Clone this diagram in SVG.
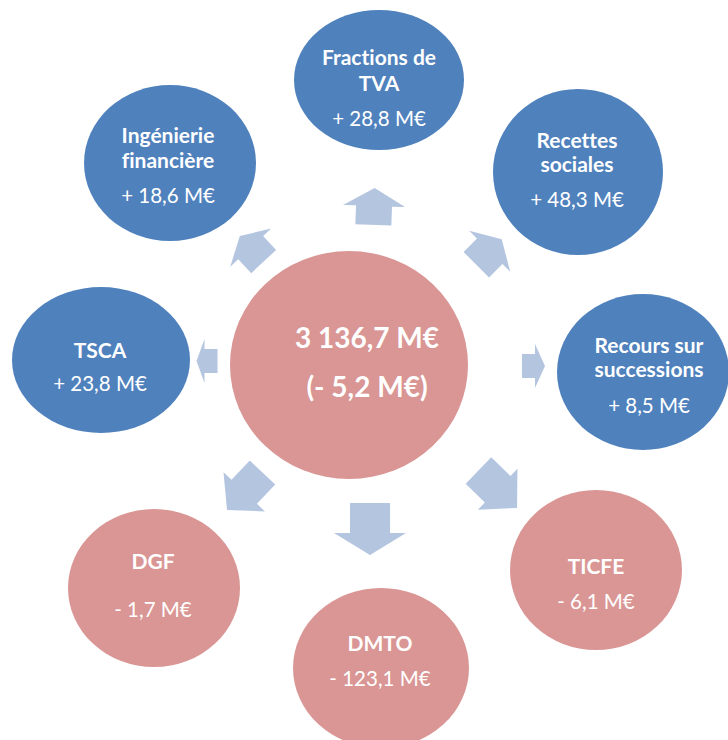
<svg xmlns="http://www.w3.org/2000/svg" width="728" height="740" viewBox="0 0 728 740">
<style>
.blue{fill:#4f81bd}
.red{fill:#d99694}
.arr{fill:#b4c5e0}
text{font-family:Lato,"Open Sans","Liberation Sans",sans-serif;fill:#fff;text-anchor:middle;font-variant-ligatures:none}
.t{font-size:21px;font-weight:bold}
.v{font-size:20.5px}
.c{font-size:28px;font-weight:bold}
</style>
<rect width="728" height="740" fill="#fff"/>
<g id="connectors">
<polygon class="arr" transform="translate(374,206.5) rotate(2)" points="0,-18.5 31,-0.5 18,-0.5 18,18.5 -18,18.5 -18,-0.5 -31,-0.5"/>
<polygon class="arr" transform="translate(489,252) rotate(45)" points="0,-18 29,-1 18,-1 18,18 -18,18 -18,-1 -29,-1"/>
<polygon class="arr" transform="translate(533.5,366) rotate(90)" points="0,-11.5 22,-1.5 12,-1.5 12,11.5 -12,11.5 -12,-1.5 -22,-1.5"/>
<polygon class="arr" transform="translate(497.75,489.25) rotate(134)" points="0,-26.85 28.5,0.15 18.4,0.15 18.4,26.85 -18.4,26.85 -18.4,0.15 -28.5,0.15"/>
<polygon class="arr" transform="translate(370,529) rotate(180)" points="0,-26 36,-4 20,-4 20,26 -20,26 -20,-4 -36,-4"/>
<polygon class="arr" transform="translate(244.75,491.25) rotate(-136.6)" points="0,-25.8 28.5,-0.8 17.5,-0.8 17.5,25.8 -17.5,25.8 -17.5,-0.8 -28.5,-0.8"/>
<polygon class="arr" transform="translate(207,361) rotate(-90)" points="0,-10.5 22,-2.5 12,-2.5 12,10.5 -12,10.5 -12,-2.5 -22,-2.5"/>
<polygon class="arr" transform="translate(251.75,248.75) rotate(-43)" points="0,-17.5 28,-1.5 17,-1.5 17,17.5 -17,17.5 -17,-1.5 -28,-1.5"/>
</g>
<g id="center">
<ellipse class="red" cx="349" cy="365" rx="119" ry="114"/>
<text class="c" x="367" y="348">3 136,7 M€</text>
<text class="c" x="367" y="397">(- 5,2 M€)</text>
</g>
<g id="fractions-tva">
<ellipse class="blue" cx="379" cy="80" rx="85" ry="70"/>
<text class="t" x="379" y="65">Fractions de</text>
<text class="t" x="379" y="91">TVA</text>
<text class="v" x="379" y="126">+ 28,8 M€</text>
</g>
<g id="ingenierie">
<ellipse class="blue" cx="170" cy="163" rx="86" ry="78"/>
<text class="t" x="168" y="143">Ingénierie</text>
<text class="t" x="168" y="168">financière</text>
<text class="v" x="168" y="203">+ 18,6 M€</text>
</g>
<g id="recettes">
<ellipse class="blue" cx="578" cy="172" rx="85" ry="83"/>
<text class="t" x="577" y="148">Recettes</text>
<text class="t" x="577" y="172">sociales</text>
<text class="v" x="577" y="207">+ 48,3 M€</text>
</g>
<g id="tsca">
<ellipse class="blue" cx="101" cy="360" rx="89" ry="73"/>
<text class="t" x="100" y="358">TSCA</text>
<text class="v" x="100" y="391">+ 23,8 M€</text>
</g>
<g id="recours">
<ellipse class="blue" cx="643" cy="372" rx="86" ry="78"/>
<text class="t" x="649" y="353">Recours sur</text>
<text class="t" x="649" y="377">successions</text>
<text class="v" x="649" y="413">+ 8,5 M€</text>
</g>
<g id="dgf">
<ellipse class="red" cx="154" cy="588" rx="86" ry="79"/>
<text class="t" x="153" y="569">DGF</text>
<text class="v" x="153" y="617">- 1,7 M€</text>
</g>
<g id="ticfe">
<ellipse class="red" cx="596" cy="570" rx="86" ry="80"/>
<text class="t" x="596" y="574">TICFE</text>
<text class="v" x="596" y="609">- 6,1 M€</text>
</g>
<g id="dmto">
<ellipse class="red" cx="381" cy="668" rx="88" ry="80"/>
<text class="t" x="380" y="651">DMTO</text>
<text class="v" x="380" y="686">- 123,1 M€</text>
</g>
</svg>
